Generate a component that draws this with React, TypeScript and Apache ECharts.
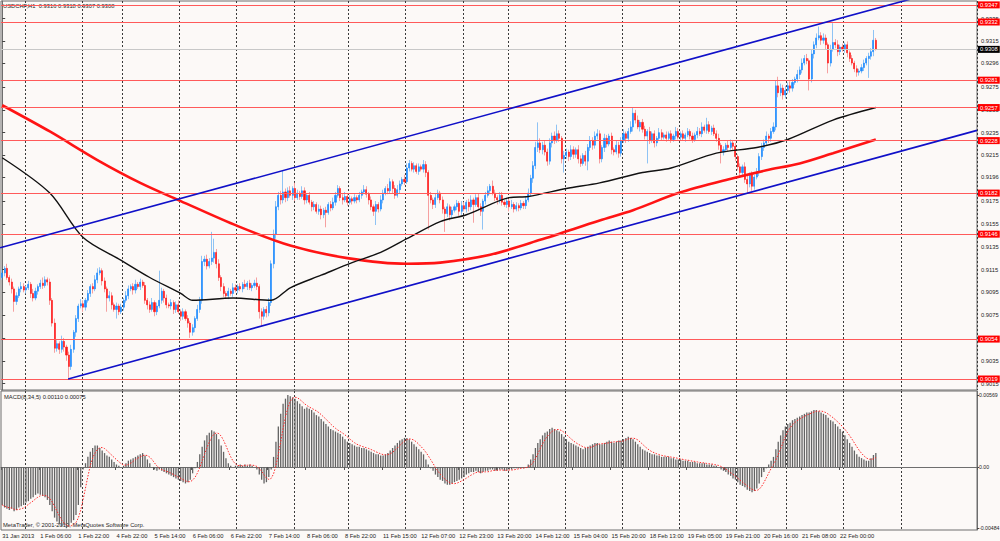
import React, { useEffect, useRef } from "react";
import * as echarts from "echarts";

// ---------- DATA (prices in pips, i.e. units of 0.0001) ----------
const FIRST_OPEN = 9108;

// hourly closes, one per H1 bar, left to right
const closes = [
  9112,9116,9108,9104,9098,9087,9092,9098,9100,9097,
  9099,9102,9094,9090,9096,9100,9103,9101,9106,9104,
  9088,9068,9046,9050,9045,9052,9047,9040,9030,9045,
  9060,9072,9083,9085,9082,9088,9094,9100,9098,9106,
  9112,9114,9105,9098,9090,9092,9084,9080,9083,9078,
  9082,9088,9092,9098,9100,9097,9102,9100,9104,9101,
  9088,9084,9080,9086,9078,9083,9088,9096,9090,9084,
  9083,9086,9080,9084,9078,9074,9078,9072,9068,9060,
  9064,9072,9080,9088,9122,9124,9118,9122,9125,9130,
  9120,9108,9100,9094,9092,9096,9094,9099,9097,9100,
  9098,9102,9100,9103,9099,9101,9103,9100,9078,9074,
  9080,9077,9086,9120,9146,9170,9180,9176,9183,9178,
  9184,9180,9186,9178,9182,9179,9184,9176,9180,9174,
  9170,9172,9166,9168,9163,9167,9165,9172,9169,9174,
  9180,9186,9178,9176,9179,9174,9177,9175,9178,9176,
  9180,9183,9185,9181,9176,9170,9166,9172,9168,9176,
  9182,9186,9184,9192,9186,9180,9185,9190,9194,9192,
  9204,9208,9203,9206,9201,9205,9203,9207,9200,9180,
  9176,9172,9178,9182,9176,9168,9164,9170,9163,9167,
  9170,9173,9166,9171,9168,9174,9170,9176,9172,9178,
  9170,9166,9175,9180,9184,9188,9182,9178,9176,9180,
  9174,9172,9175,9170,9172,9168,9171,9169,9173,9171,
  9176,9182,9195,9206,9222,9226,9220,9224,9218,9210,
  9226,9232,9228,9234,9230,9212,9215,9218,9214,9220,
  9216,9220,9212,9208,9215,9210,9222,9228,9224,9232,
  9234,9212,9222,9230,9225,9232,9220,9218,9224,9217,
  9228,9234,9230,9236,9240,9252,9246,9240,9244,9238,
  9232,9236,9228,9234,9226,9230,9235,9231,9233,9230,
  9234,9229,9232,9236,9231,9234,9230,9233,9236,9232,
  9229,9233,9236,9234,9240,9237,9242,9236,9239,9234,
  9230,9224,9218,9220,9224,9222,9226,9223,9214,9205,
  9200,9205,9194,9190,9198,9188,9196,9200,9214,9222,
  9226,9232,9230,9236,9240,9276,9270,9274,9268,9272,
  9276,9274,9279,9282,9286,9290,9296,9300,9298,9282,
  9304,9312,9318,9320,9316,9318,9312,9296,9308,9314,
  9312,9306,9310,9308,9312,9305,9300,9296,9291,9288,
  9289,9292,9296,9300,9302,9306,9316,9308,
];

// upper shadow above the body, pips
const upperWick = [
  3,2,4,2,3,2,3,2,4,3, 2,3,2,4,3,2,3,5,3,2, 3,2,4,3,2,5,3,2,3,4, 2,3,2,4,3,2,3,2,3,4,
  4,3,2,3,2,4,3,2,3,2, 3,2,4,3,2,3,4,2,3,2, 3,2,3,4,2,3,26,3,2,3, 2,3,2,3,4,2,3,2,3,2,
  3,2,4,3,5,3,4,3,23,12, 3,4,2,3,2,3,2,4,3,2, 3,2,4,2,3,2,3,5,2,3, 2,3,4,3,4,5,3,4,19,3,
  3,4,2,5,3,2,4,3,2,3, 2,3,2,4,3,2,3,2,3,4, 3,3,2,3,4,2,3,2,3,2, 3,2,4,3,2,3,2,3,2,4,
  3,2,4,3,2,3,4,3,2,4, 4,3,2,3,2,3,2,4,3,2, 3,2,4,3,2,3,2,3,2,3, 2,3,2,4,3,2,3,4,2,3,
  4,3,2,3,4,2,5,3,2,3, 3,2,3,2,4,2,3,2,3,2, 3,4,3,4,5,18,4,3,4,3, 4,3,4,8,3,2,4,3,2,4,
  3,2,4,3,2,4,3,4,3,4, 4,3,2,4,3,2,3,2,4,3, 3,4,2,3,5,5,3,4,2,3, 3,2,4,2,3,2,4,3,2,3,
  2,3,2,4,3,2,3,2,3,2, 3,2,4,3,4,2,6,3,2,3, 3,4,2,3,2,4,3,2,3,2, 3,2,4,3,2,3,2,4,3,4,
  3,4,2,3,4,5,8,4,3,4, 3,4,3,2,4,3,4,3,4,2, 4,3,4,8,3,4,3,2,4,17, 3,4,2,3,2,3,2,3,2,3,
  2,3,3,2,3,3,9,2,
];

// lower shadow below the body, pips
const lowerWick = [
  2,3,2,3,4,9,3,2,3,2, 3,2,4,3,2,3,2,3,2,3, 4,3,4,3,4,3,4,5,10,3, 3,4,3,2,4,3,2,3,4,2,
  3,2,4,3,12,3,4,2,8,3, 2,3,2,3,2,4,3,2,3,2, 3,4,3,2,4,3,2,3,4,3, 2,3,4,3,2,4,3,2,4,5,
  3,4,2,3,3,4,3,2,3,4, 4,3,4,3,2,3,2,3,2,3, 2,3,2,3,2,3,2,3,6,9, 3,4,3,3,4,4,3,4,3,4,
  3,2,4,3,2,3,2,4,3,2, 4,3,2,3,4,3,13,2,3,2, 3,2,3,4,2,3,2,3,2,3, 2,3,2,3,4,3,4,12,3,2,
  3,2,3,2,4,3,2,3,2,3, 2,3,2,3,2,3,2,3,4,30, 3,4,3,2,3,4,16,3,5,3, 2,3,4,3,2,3,4,3,16,2,
  3,4,16,3,2,3,2,3,4,3, 3,2,3,4,2,3,2,3,2,3, 3,2,3,4,3,4,3,4,3,4, 3,4,3,2,3,4,12,3,4,3,
  4,3,4,3,2,4,8,3,4,3, 3,4,3,4,3,2,4,3,2,4, 3,2,4,3,2,4,3,2,4,3, 3,24,3,2,4,3,2,3,2,3,
  2,3,2,3,2,3,2,3,2,3, 3,2,3,2,3,2,3,2,3,2, 3,4,10,3,2,3,2,3,4,3, 3,4,3,8,3,4,3,2,3,3,
  3,2,4,3,2,3,4,3,4,3, 3,4,3,2,3,4,3,2,3,10, 3,4,3,2,4,3,4,9,3,2, 3,4,3,2,3,4,3,2,3,4,
  3,2,3,2,17,3,4,1,
];

// MACD(8,34,5) main values, units of 0.0001
const macdMain = [
  -30,-32,-33,-34,-33,-35,-34,-32,-31,-30,
  -28,-27,-25,-24,-22,-21,-22,-23,-24,-26,
  -30,-35,-40,-43,-45,-47,-46,-48.4,-47,-44,
  -42,-38,-30,-16,-2,3,8,12,15,17,
  17,15,13,11,9,8,6,4,2,1,
  0,1,3,5,6,7,8,9,10,11,
  9,6,3,0,-2,-3,-2,-3,-4,-5,
  -6,-7,-8,-9,-10,-11,-12,-13,-12,-10,
  -5,-1,4,10,16,21,25,27,29,28,
  26,22,17,12,7,3,1,0,1,1,
  2,1,2,1,2,1,0,-2,-6,-10,
  -13,-12,-8,-2,8,20,32,42,50,54,
  56.9,56,55,54,52,50,48,46,47,46,
  45,43,41,40,38,36,34,32,30,29,
  28,27,26,24,22,20,19,18,17,16,
  16,15,15,14,13,12,11,10,10,9,
  9,10,11,13,15,17,19,21,22,23,
  23,22,20,18,16,14,12,10,6,2,
  -1,-3,-6,-8,-10,-11,-13,-14,-14,-13,
  -12,-11,-10,-9,-8,-6,-5,-4,-4,-3,
  -4,-5,-4,-3,-3,-2,-2,-3,-3,-2,
  -2,-3,-3,-2,-2,-1,-1,-1,0,-1,
  0,2,6,10,15,19,22,25,27,28,
  30,31,30,29,28,26,24,22,20,19,
  18,17,16,15,14,15,16,17,18,19,
  19,18,18,19,20,21,20,19,20,21,
  21,22,23,24,23,22,20,18,16,14,
  13,12,11,10,10,9,9,8,8,8,
  8,7,7,6,6,6,5,5,5,4,
  4,4,3,3,3,3,2,2,2,1,
  1,0,-2,-3,-4,-6,-7,-9,-10,-12,
  -14,-15,-16,-18,-19,-20,-19,-17,-13,-8,
  -4,-1,2,5,8,14,20,25,29,32,
  34,35,37,38,39,40,41,42,43,43,
  44,45,45,44,43,42,41,39,37,36,
  34,32,30,28,25,22,19,16,13,10,
  8,7,6,5,5,7,9.5,11,
];

// moving averages: [bar index, pips]
const redMA = [
  [0,9259],[20,9236],[40,9211],[58,9191],[75,9175],[99,9153],[121,9136],[145,9125],
  [170,9120],[184,9121],[205,9128],[226,9141],[251,9158],[265,9167],[284,9182],
  [307,9195],[321,9202],[335,9208],[349,9217],[367,9229],
];
const blackMA = [
  [0,9213],[20,9182],[34,9143],[50,9123],[62,9108],[75,9094],[80,9088],[97,9090],
  [113,9088],[121,9099],[134,9110],[147,9121],[159,9130],[170,9142],[184,9157],
  [195,9163],[213,9178],[221,9179],[237,9186],[251,9191],[269,9200],[281,9204],
  [300,9217],[317,9222],[330,9229],[349,9246],[367,9257],
];

// channel trend lines: [bar index, pips]
const channelUpper = [[-0.84, 9134], [409.5, 9368]];
const channelLower = [[27.7, 9019], [409.5, 9237]];

// horizontal levels and current bid
const levels = [9347, 9332, 9281, 9257, 9228, 9182, 9146, 9054, 9019];
const bidPrice = 9308;

// right-axis tick labels
const priceTicks = [9015,9035,9055,9075,9095,9115,9135,9155,9175,9196,9215,9235,9255,9275,9296,9315,9335];
const macdTicks = [-0.00484, 0, 0.00569];

// time axis labels, every 16 bars
const timeLabels = [
  "31 Jan 2013","1 Feb 06:00","1 Feb 22:00","4 Feb 22:00","5 Feb 14:00","6 Feb 06:00",
  "6 Feb 22:00","7 Feb 14:00","8 Feb 06:00","8 Feb 22:00","11 Feb 15:00","12 Feb 07:00",
  "12 Feb 23:00","13 Feb 20:00","14 Feb 12:00","15 Feb 04:00","15 Feb 20:00","18 Feb 13:00",
  "19 Feb 05:00","19 Feb 21:00","20 Feb 16:00","21 Feb 08:00","22 Feb 00:00",
];
const LABEL_STEP = 16;
// bar index where each new day starts (dotted vertical grid)
const dayStarts = [10,34,51,75,99,123,146,170,194,213,237,261,285,309,330,354,378];
const TOTAL_SLOTS = 410;

// ---------- STYLE ----------
const FONT = "Liberation Sans";
const BG = "#fcf9f7";
const FS = 5.8;
const P = (v: number) => v / 10000;

const PRICE_MAX = 0.935041;
const PRICE_MIN = 0.900936;
const MACD_MAX = 0.006006;
const MACD_MIN = -0.004979;

function buildOption() {
  const cats = Array.from({ length: TOTAL_SLOTS }, (_, i) =>
    i % LABEL_STEP === 0 && i / LABEL_STEP < timeLabels.length ? timeLabels[i / LABEL_STEP] : String(i)
  );
  const isLabel = (i: number) => i % LABEL_STEP === 0 && i / LABEL_STEP < timeLabels.length;
  const isDay = (i: number) => dayStarts.includes(i);

  const candles = closes.map((c, i) => {
    const o = i === 0 ? FIRST_OPEN : closes[i - 1];
    const hi = Math.max(o, c) + upperWick[i];
    const lo = Math.min(o, c) - lowerWick[i];
    return [P(o), P(c), P(lo), P(hi)];
  });
  const bodies = candles.map(([o, c]) => [o, c, Math.min(o, c), Math.max(o, c)]);

  const signal = macdMain.map((_, i) => {
    const s = macdMain.slice(Math.max(0, i - 4), i + 1);
    return P(s.reduce((a, b) => a + b, 0) / s.length);
  });

  const splitLine = {
    show: true,
    interval: (i: number) => isDay(i),
    lineStyle: { color: "#3a3a3a", type: [2, 2], width: 1 },
  };

  const labelText = { fontSize: FS, fontFamily: FONT, color: "#1e1e1e" };

  const levelLabel = (bg: string) => ({
    show: true,
    position: "end",
    distance: 1,
    formatter: (p: any) => Number(p.value).toFixed(4),
    color: "#ffffff",
    backgroundColor: bg,
    padding: [1, 2, 0, 2],
    fontSize: FS,
    fontFamily: FONT,
  });

  return {
    animation: false,
    backgroundColor: BG,
    textStyle: { fontFamily: FONT },
    grid: [
      { left: 1, top: 1, width: 976, height: 389, show: true, borderColor: "#6e6e6e", borderWidth: 1, outerBoundsMode: "none" },
      { left: 1, top: 391, width: 976, height: 139, show: true, borderColor: "#6e6e6e", borderWidth: 1, outerBoundsMode: "none" },
    ],
    xAxis: [
      {
        type: "category", gridIndex: 0, data: cats, boundaryGap: true,
        axisLine: { show: false }, axisTick: { show: false }, axisLabel: { show: false },
        splitLine,
      },
      { type: "value", gridIndex: 0, min: -0.5, max: TOTAL_SLOTS - 0.5, show: false, splitLine: { show: false } },
      {
        type: "category", gridIndex: 1, data: cats, boundaryGap: true,
        axisLine: { show: true, lineStyle: { color: "#6e6e6e" } },
        axisTick: { show: true, interval: (i: number) => isLabel(i), length: 3, lineStyle: { color: "#555" } },
        axisLabel: { show: true, interval: (i: number) => isLabel(i), align: "left", margin: 3, ...labelText },
        splitLine,
      },
    ],
    yAxis: [
      {
        type: "value", gridIndex: 0, position: "right", min: PRICE_MIN, max: PRICE_MAX,
        splitLine: { show: false },
        axisLine: { show: true, lineStyle: { color: "#6e6e6e" } },
        axisTick: { show: true, length: 3, customValues: priceTicks.map(P), lineStyle: { color: "#444" } },
        axisLabel: { customValues: priceTicks.map(P), formatter: (v: number) => v.toFixed(4), margin: 4, ...labelText },
      },
      {
        type: "value", gridIndex: 1, position: "right", min: MACD_MIN, max: MACD_MAX,
        splitLine: { show: false },
        axisLine: { show: true, lineStyle: { color: "#6e6e6e" } },
        axisTick: { show: true, length: 2, customValues: macdTicks, lineStyle: { color: "#444" } },
        axisLabel: {
          customValues: macdTicks,
          formatter: (v: number) => (Math.abs(v) < 1e-9 ? "0.00" : v.toFixed(5)),
          margin: 2, fontSize: 5.2, fontFamily: FONT, color: "#1e1e1e",
        },
      },
    ],
    graphic: [
      { type: "text", left: 3, top: 3, style: { text: "USDCHF,H1  0.9316 0.9318 0.9307 0.9308", fontSize: FS, fontFamily: FONT, fill: "#1e1e1e" } },
      { type: "text", left: 4, top: 394, style: { text: "MACD(8,34,5) 0.00110 0.00075", fontSize: FS, fontFamily: FONT, fill: "#1e1e1e" } },
      { type: "text", left: 3, top: 522, style: { text: "MetaTrader, © 2001-2013, MetaQuotes Software Corp.", fontSize: FS, fontFamily: FONT, fill: "#1e1e1e" } },
    ],
    series: [
      {
        name: "shadows", type: "candlestick", xAxisIndex: 0, yAxisIndex: 0, data: candles,
        barWidth: 1, z: 2,
        itemStyle: { color: "#8fc3f4", color0: "#f6a0a0", borderColor: "#8fc3f4", borderColor0: "#f6a0a0", borderWidth: 1 },
      },
      {
        name: "bodies", type: "candlestick", xAxisIndex: 0, yAxisIndex: 0, data: bodies,
        barWidth: 1.6, z: 3,
        itemStyle: { color: "#1e8cff", color0: "#ff1a1a", borderColor: "#1e8cff", borderColor0: "#ff1a1a", borderWidth: 0.6 },
      },
      {
        name: "MA red", type: "line", xAxisIndex: 1, yAxisIndex: 0, data: redMA.map(([i, v]) => [i, P(v)]),
        showSymbol: false, smooth: 0.3, z: 4, lineStyle: { color: "#ff1414", width: 2.6 },
      },
      {
        name: "MA black", type: "line", xAxisIndex: 1, yAxisIndex: 0, data: blackMA.map(([i, v]) => [i, P(v)]),
        showSymbol: false, smooth: 0.3, z: 4, lineStyle: { color: "#111111", width: 1.4 },
        markLine: {
          symbol: "none", silent: true, animation: false, precision: 4,
          data: [
            ...levels.map((v) => ({ yAxis: P(v), lineStyle: { color: "#ff5a5a", width: 1.2, type: "solid" }, label: levelLabel("#ff0000") })),
            { yAxis: P(bidPrice), lineStyle: { color: "#c8c8c8", width: 1, type: "solid" }, label: levelLabel("#000000") },
          ],
        },
      },
      {
        name: "channel top", type: "line", xAxisIndex: 1, yAxisIndex: 0, data: channelUpper.map(([i, v]) => [i, P(v)]),
        showSymbol: false, clip: true, z: 5, lineStyle: { color: "#1010c8", width: 1.6 },
      },
      {
        name: "channel bottom", type: "line", xAxisIndex: 1, yAxisIndex: 0, data: channelLower.map(([i, v]) => [i, P(v)]),
        showSymbol: false, clip: true, z: 5, lineStyle: { color: "#1010c8", width: 1.6 },
      },
      {
        name: "MACD", type: "bar", xAxisIndex: 2, yAxisIndex: 1, data: macdMain.map(P),
        barWidth: 1.3, itemStyle: { color: "#636363" },
      },
      {
        name: "Signal", type: "line", xAxisIndex: 2, yAxisIndex: 1, data: signal,
        showSymbol: false, z: 4, lineStyle: { color: "#ff2a2a", width: 1, type: [1.5, 1.5] },
      },
    ],
  };
}

export default function App() {
  const ref = useRef<HTMLDivElement>(null);
  useEffect(() => {
    const chart = echarts.init(ref.current!, null, { renderer: "svg" });
    chart.setOption(buildOption() as any);
    return () => chart.dispose();
  }, []);
  return (
    <div
      ref={ref}
      style={{ position: "fixed", left: 0, top: 0, width: 1000, height: 541, background: BG }}
    />
  );
}
